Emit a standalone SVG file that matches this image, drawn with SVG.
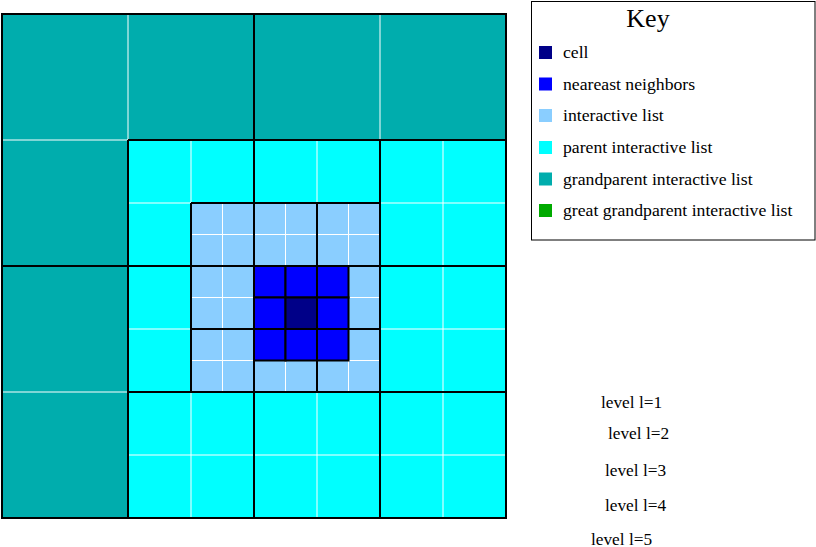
<svg xmlns="http://www.w3.org/2000/svg" width="816" height="547" viewBox="0 0 816 547">
<style>
.teal{fill:#00ADAD}
.cyan{fill:#00FFFF}
.lb{fill:#8ACEFF}
.blue{fill:#0000FF;stroke:#000;stroke-width:2}
.navy{fill:#000088;stroke:#000;stroke-width:2}
.w{stroke:#fff;stroke-width:1;fill:none}
.k{stroke:#000;stroke-width:2;fill:none}
.t{font-family:"Liberation Serif","Times New Roman",serif;font-size:17.7px;fill:#000}
.lv{font-family:"Liberation Serif","Times New Roman",serif;font-size:17.3px;fill:#000}
</style>
<rect width="816" height="547" fill="#fff"/>
<g id="grid">
  <g id="grandparent">
    <rect class="teal" x="2" y="14" width="504" height="504"/>
    <path class="w" d="M128 14V140M380 14V140M2 140H128M2 392H128"/>
  </g>
  <g id="parent">
    <rect class="cyan" x="128" y="140" width="378" height="378"/>
    <path class="w" d="M191 140V518M317 140V518M443 140V518M128 203H506M128 329H506M128 455H506"/>
    <path class="k" d="M128 140V518M380 140V518M128 140H506M128 392H506"/>
  </g>
  <g id="level1">
    <path class="k" d="M254 14V518M2 266H506"/>
  </g>
  <g id="interactive">
    <rect class="lb" x="191" y="203" width="189" height="189"/>
    <path class="w" d="M222.5 203V392M285.5 203V392M348.5 203V392M191 234.5H380M191 297.5H380M191 360.5H380"/>
    <path class="k" d="M191 203V392M254 203V392M317 203V392M380 203V392M191 203H380M191 266H380M191 329H380M191 392H380"/>
  </g>
  <g id="neighbors">
    <rect class="blue" x="254" y="266" width="31.5" height="31.5"/>
    <rect class="blue" x="285.5" y="266" width="31.5" height="31.5"/>
    <rect class="blue" x="317" y="266" width="31.5" height="31.5"/>
    <rect class="blue" x="254" y="297.5" width="31.5" height="31.5"/>
    <rect class="blue" x="317" y="297.5" width="31.5" height="31.5"/>
    <rect class="blue" x="254" y="329" width="31.5" height="31.5"/>
    <rect class="blue" x="285.5" y="329" width="31.5" height="31.5"/>
    <rect class="blue" x="317" y="329" width="31.5" height="31.5"/>
  </g>
  <g id="cell">
    <rect class="navy" x="285.5" y="297.5" width="31.5" height="31.5"/>
  </g>
  <rect class="k" x="2" y="14" width="504" height="504"/>
</g>
<g id="legend">
  <rect x="531.5" y="1.5" width="283.5" height="238.5" fill="#fff" stroke="#000" stroke-width="1"/>
  <text x="648" y="26.5" text-anchor="middle" font-family="Liberation Serif, Times New Roman, serif" font-size="26">Key</text>
  <rect x="539" y="46" width="13" height="13" fill="#000088"/>
  <text class="t" x="563" y="58">cell</text>
  <rect x="539" y="77.5" width="13" height="13" fill="#0000FF"/>
  <text class="t" x="563" y="89.5">neareast neighbors</text>
  <rect x="539" y="109" width="13" height="13" fill="#8ACEFF"/>
  <text class="t" x="563" y="121">interactive list</text>
  <rect x="539" y="141" width="13" height="13" fill="#00FFFF"/>
  <text class="t" x="563" y="153">parent interactive list</text>
  <rect x="539" y="172.5" width="13" height="13" fill="#00ADAD"/>
  <text class="t" x="563" y="184.5">grandparent interactive list</text>
  <rect x="539" y="204" width="13" height="13" fill="#00AA00"/>
  <text class="t" x="563" y="216">great grandparent interactive list</text>
</g>
<g id="levels">
  <text class="lv" x="601" y="407.5">level l=1</text>
  <text class="lv" x="608" y="439">level l=2</text>
  <text class="lv" x="605" y="476">level l=3</text>
  <text class="lv" x="605" y="511">level l=4</text>
  <text class="lv" x="591" y="544.5">level l=5</text>
</g>
</svg>
